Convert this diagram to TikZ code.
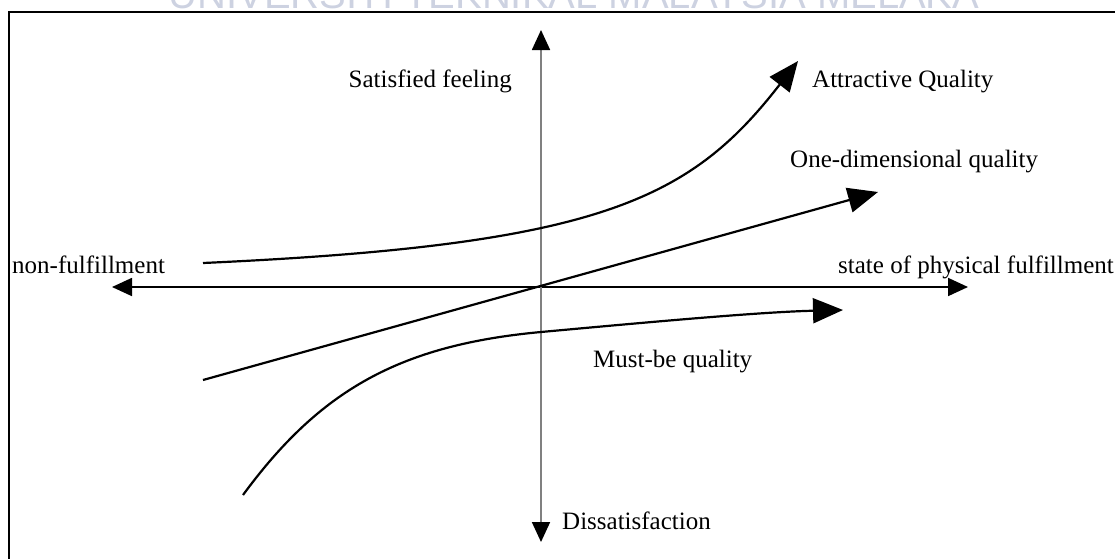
\documentclass[tikz,border=0pt]{standalone}
\usepackage{fontspec}
\setmainfont{Liberation Serif}
\newfontfamily\wmfont{Liberation Sans}
\usetikzlibrary{arrows.meta}
\definecolor{wmgray}{RGB}{205,210,225}
\tikzset{
  axis/.style={line width=1.8pt,arrows={Triangle[length=20pt,width=18pt,color=black]-Triangle[length=20pt,width=18pt,color=black]}},
  curve/.style={line width=2.2pt,-{Triangle[length=30pt,width=25pt]}},
  lbl/.style={inner sep=0pt,font=\fontsize{25}{30}\selectfont}
}
\begin{document}
\begin{tikzpicture}[x=1pt,y=-1pt]
    \useasboundingbox (0,0) rectangle (1115,558);
    \clip (0,0) rectangle (1115,558);
    %watermark
    \node[anchor=base,inner sep=0pt,text=wmgray,font=\wmfont\fontsize{40}{40}\selectfont] (wm) at (574,8) {UNIVERSITI TEKNIKAL MALAYSIA MELAKA};
    %frame
    \draw[line width=2.5pt] (9,12) rectangle (1140,590);
    %axes
    \coordinate (O) at (541,287);
    \coordinate (xl) at (112,287);
    \coordinate (xr) at (968,287);
    \coordinate (yt) at (541,30);
    \coordinate (yb) at (541,542);
    \draw[axis] (xl) -- (xr);
    \draw[axis,draw=black!50] (yb) -- (yt);
    %curves
    \coordinate (at0) at (203,263);
    \coordinate (at1) at (798,61);
    \coordinate (od0) at (203,380);
    \coordinate (od1) at (878,192);
    \coordinate (mb0) at (243,495);
    \coordinate (mb1) at (541,332);
    \coordinate (mb2) at (843,310);
    \draw[curve] (at0) .. controls (600,245) and (690,200) .. (at1);
    \draw[curve] (od0) -- (od1);
    \draw[curve] (mb0) .. controls (320,390) and (400,345) .. (mb1)
                       .. controls (650,322) and (760,312) .. (mb2);
    %labels
    \node[lbl,anchor=base west] (nf) at (12,273) {non-fulfillment};
    \node[lbl,anchor=base west] (sf) at (838,273) {state of physical fulfillment};
    \node[lbl,anchor=base east] (sat) at (512,87) {Satisfied feeling};
    \node[lbl,anchor=base west] (dis) at (562,529) {Dissatisfaction};
    \node[lbl,anchor=base west] (aq) at (812,87) {Attractive Quality};
    \node[lbl,anchor=base west] (oq) at (790,167) {One-dimensional quality};
    \node[lbl,anchor=base west] (mq) at (593,367) {Must-be quality};
\end{tikzpicture}
\end{document}
